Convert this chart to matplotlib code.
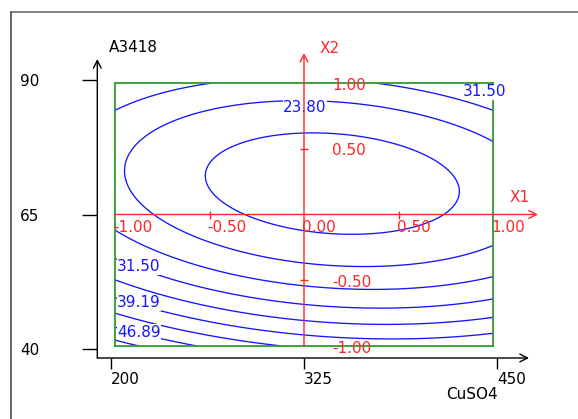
import numpy as np
import matplotlib
matplotlib.use("Agg")
import matplotlib.pyplot as plt
from matplotlib.lines import Line2D

# Fitted second-order response surface in coded units (x1 = CuSO4, x2 = A3418)
b0, b1, b2 = 13.70, -4.43, -15.69
b12, b11, b22 = 5.58, 10.40, 31.60

# Contour levels of the response
contour_levels = [16.11, 23.80, 31.50, 39.19, 46.89, 54.58, 62.28, 69.97, 77.66]

# Labelled contours: (level, x1, x2) anchor of the label's left edge
label_levels = [23.80, 31.50, 31.50, 39.19, 46.89]
label_x1 = [-0.111, 0.841, -0.989, -0.989, -0.989]
label_x2 = [0.81, 0.932, -0.399, -0.673, -0.894]

# Natural-unit axes
cuso4_ticks = [200, 325, 450]
a3418_ticks = [40, 65, 90]
cuso4_range = (191.1, 470.7)
a3418_range = (38.33, 93.96)

# Coded-unit axes
coded_x1_ticks = [-1.0, -0.5, 0.0, 0.5, 1.0]
coded_x2_ticks = [1.0, 0.5, -0.5, -1.0]

W, H, DPI = 578, 419, 100
PX = 72.0 / DPI  # points per pixel

BLUE = "#1414ff"
RED = "#ff2626"
GREEN = "#2e9b2e"
FS = 11

plt.rcParams["font.family"] = ["DejaVu Sans"]
fig = plt.figure(figsize=(W / DPI, H / DPI), dpi=DPI)
fig.patch.set_facecolor("white")


def fx(px):
    return px / W


def fy(py):
    return 1 - py / H


# Outer frame (top and left edges of the panel)
fig.add_artist(Line2D([fx(11), fx(11)], [fy(12), fy(H + 5)], color="#3c3c3c", lw=1.1))
fig.add_artist(Line2D([fx(11), fx(W + 5)], [fy(12), fy(12)], color="#606060", lw=1.1))

# ---- natural-unit axes (black) ----
ax_real = fig.add_axes([fx(97.3), fy(358), fx(529) - fx(97.3), fy(59) - fy(358)])
ax_real.set_xlim(*cuso4_range)
ax_real.set_ylim(*a3418_range)
ax_real.patch.set_alpha(0)
for s in ax_real.spines.values():
    s.set_visible(False)
arrow_k = dict(arrowstyle="->,head_length=0.55,head_width=0.28", color="black",
               lw=1.0, shrinkA=0, shrinkB=0)
ax_real.annotate("", xy=(1, 0), xytext=(0, 0), xycoords="axes fraction",
                 textcoords="axes fraction", arrowprops=arrow_k, annotation_clip=False)
ax_real.annotate("", xy=(0, 1), xytext=(0, 0), xycoords="axes fraction",
                 textcoords="axes fraction", arrowprops=arrow_k, annotation_clip=False)
ax_real.set_xticks(cuso4_ticks)
ax_real.set_xticklabels([str(v) for v in cuso4_ticks], ha="left")
ax_real.set_yticks(a3418_ticks)
ax_real.set_yticklabels([str(v) for v in a3418_ticks], ha="left")
ax_real.tick_params(axis="x", direction="out", length=10.5 * PX, width=1.0,
                    pad=2.5, labelsize=FS, colors="black")
ax_real.tick_params(axis="y", direction="out", length=15 * PX, width=1.0,
                    pad=62 * PX, labelsize=FS, colors="black")
for lab in ax_real.get_xticklabels():
    lab.set_x(lab.get_position()[0])

fig.text(fx(109), fy(48), "A3418", fontsize=FS, ha="left", va="center", color="black")
fig.text(fx(446), fy(394), "CuSO4", fontsize=FS, ha="left", va="center", color="black")

# ---- coded axes with the response contours ----
ax = fig.add_axes([fx(115), fy(346), fx(493) - fx(115), fy(83) - fy(346)])
ax.set_xlim(-1, 1)
ax.set_ylim(-1, 1)
ax.patch.set_alpha(0)
ax.set_xticks([])
ax.set_yticks([])
for s in ax.spines.values():
    s.set_color(GREEN)
    s.set_linewidth(1.3)

g = np.linspace(-1, 1, 301)
X1, X2 = np.meshgrid(g, g)
Y = b0 + b1 * X1 + b2 * X2 + b12 * X1 * X2 + b11 * X1 ** 2 + b22 * X2 ** 2
ax.contour(X1, X2, Y, levels=contour_levels, colors=BLUE, linewidths=0.95, zorder=2)

for lv, x1, x2 in zip(label_levels, label_x1, label_x2):
    ax.text(x1, x2, f"{lv:.2f}", color=BLUE, fontsize=FS, ha="left", va="center",
            zorder=3, bbox=dict(facecolor="white", edgecolor="none", pad=0.3))

# Coded axes (red) through the design centre
red_arrow = dict(arrowstyle="->,head_length=0.55,head_width=0.28", color=RED,
                 lw=1.0, shrinkA=0, shrinkB=0)
ax.annotate("", xy=(1.238, 0), xytext=(-1, 0), arrowprops=red_arrow,
            annotation_clip=False, zorder=4)
ax.annotate("", xy=(0, 1.228), xytext=(0, -1), arrowprops=red_arrow,
            annotation_clip=False, zorder=4)

for v in coded_x1_ticks:
    if abs(v) == 0.5:
        ax.plot([v], [0], marker="|", markersize=6, color=RED, mew=1.0,
                clip_on=False, zorder=4)
    ax.annotate(f"{v:.2f}", xy=(v, 0), xytext=(-2 * PX, -13 * PX),
                textcoords="offset points", ha="left", va="center",
                color=RED, fontsize=FS, annotation_clip=False, zorder=5)
for v in coded_x2_ticks:
    if abs(v) == 0.5:
        ax.plot([0], [v], marker="_", markersize=6, color=RED, mew=1.0,
                clip_on=False, zorder=4)
    ax.annotate(f"{v:.2f}", xy=(0, v), xytext=(28 * PX, -2 * PX),
                textcoords="offset points", ha="left", va="center",
                color=RED, fontsize=FS, annotation_clip=False, zorder=5)

ax.annotate("X1", xy=(1.0, 0), xytext=(17 * PX, 17 * PX), textcoords="offset points",
            ha="left", va="center", color=RED, fontsize=FS, annotation_clip=False)
ax.annotate("X2", xy=(0, 1.228), xytext=(16 * PX, 5 * PX), textcoords="offset points",
            ha="left", va="center", color=RED, fontsize=FS, annotation_clip=False)

fig.savefig("out.png", dpi=DPI, facecolor="white")
